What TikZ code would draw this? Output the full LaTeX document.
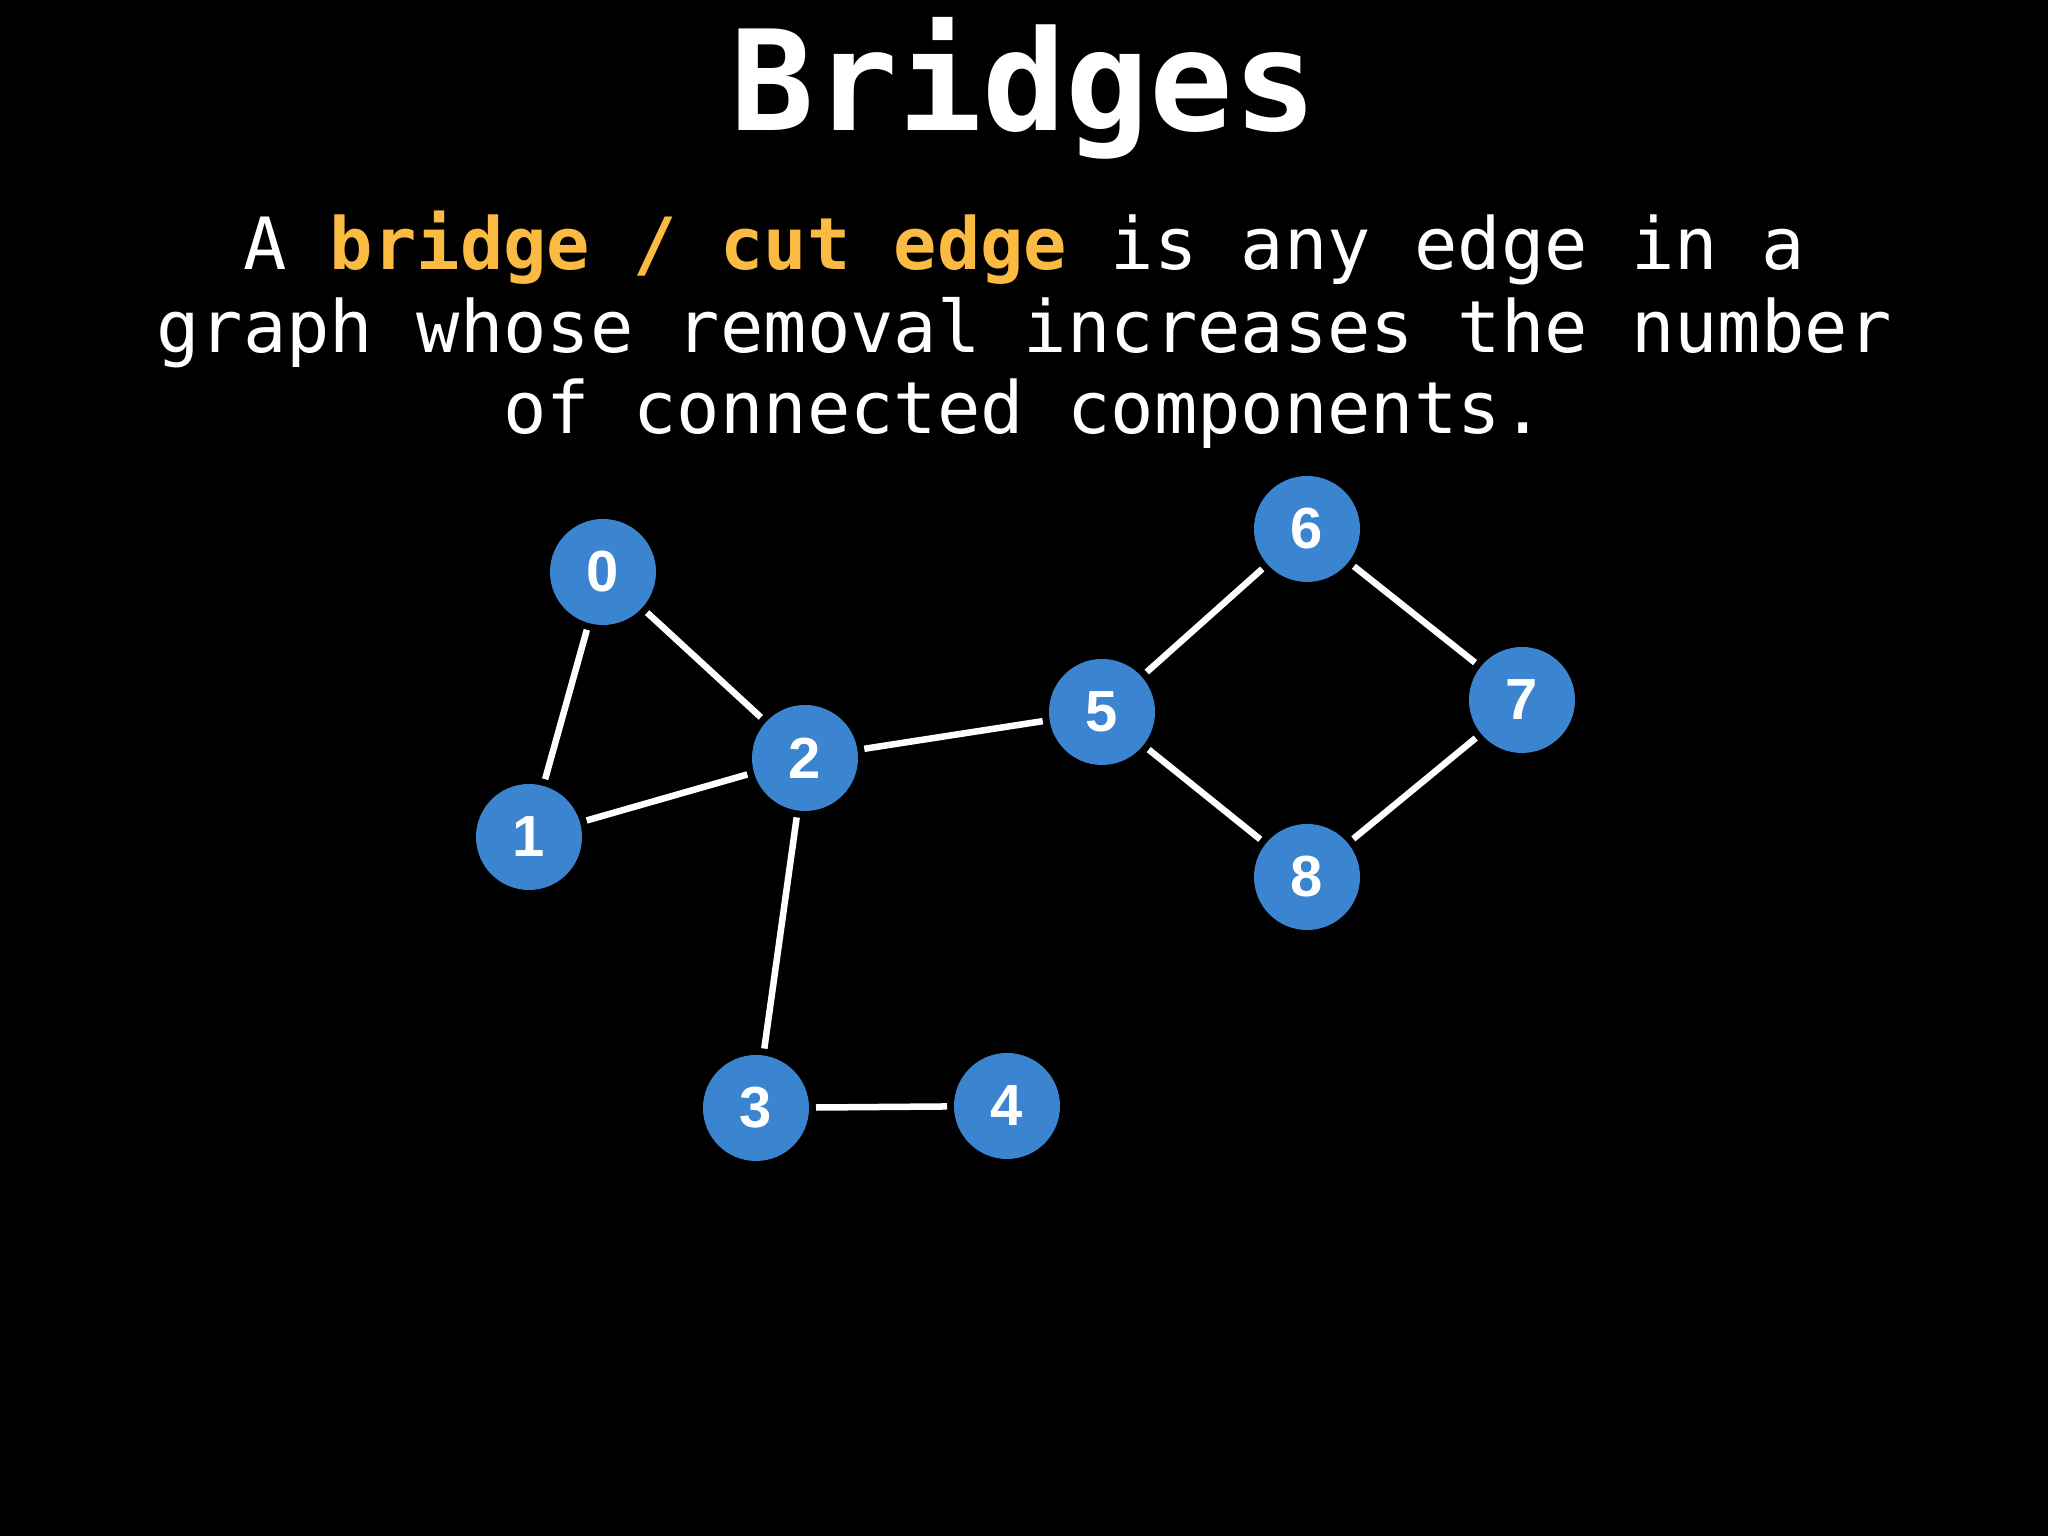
\documentclass[tikz,border=0pt]{standalone}
\usepackage{fontspec}
\setmonofont{DejaVu Sans Mono}
\newfontfamily\numfont{Liberation Sans}
\usepackage{tikz}
\usetikzlibrary{positioning}

\definecolor{nodeblue}{RGB}{58,132,208}
\definecolor{hlorange}{RGB}{251,186,66}

\begin{document}
\begin{tikzpicture}[
          title/.style={text=white, anchor=base, inner sep=0pt, font=\ttfamily\bfseries\fontsize{39.6}{48}\selectfont},
          desc/.style={text=white, anchor=base, inner sep=0pt, font=\ttfamily\fontsize{20.5}{24}\selectfont},
          vertex/.style={circle, fill=nodeblue, minimum size=1.06cm, inner sep=0pt, outer sep=0.07cm,
                         text=white, font=\numfont\bfseries\fontsize{16.5}{18}\selectfont},
          edge/.style={draw=white, line width=0.065cm}
        ]

        % -------- Background --------
        \fill[black] (0,0) rectangle (20.48,15.36);
        \useasboundingbox (0,0) rectangle (20.48,15.36);

        % -------- Title and text --------
        \node[title] (title) at (10.24,14.05) {Bridges};
        \node[desc] (desc1) at (10.24,12.66) {A \textcolor{hlorange}{\bfseries bridge / cut edge} is any edge in a};
        \node[desc] (desc2) at (10.24,11.83) {graph whose removal increases the number};
        \node[desc] (desc3) at (10.24,11.02) {of connected components.};

        % -------- Vertices --------
        \node[vertex] (v0) at (6.03,9.64) {0};
        \node[vertex] (v1) at (5.29,6.99) {1};
        \node[vertex] (v2) at (8.05,7.78) {2};
        \node[vertex] (v3) at (7.56,4.28) {3};
        \node[vertex] (v4) at (10.07,4.30) {4};
        \node[vertex] (v5) at (11.02,8.24) {5};
        \node[vertex] (v6) at (13.07,10.07) {6};
        \node[vertex] (v7) at (15.22,8.36) {7};
        \node[vertex] (v8) at (13.07,6.59) {8};

        % -------- Edges --------
        \draw[edge] (v0) -- (v1);
        \draw[edge] (v0) -- (v2);
        \draw[edge] (v1) -- (v2);
        \draw[edge] (v2) -- (v3);
        \draw[edge] (v3) -- (v4);
        \draw[edge] (v2) -- (v5);
        \draw[edge] (v5) -- (v6);
        \draw[edge] (v6) -- (v7);
        \draw[edge] (v7) -- (v8);
        \draw[edge] (v5) -- (v8);

      \end{tikzpicture}
\end{document}
